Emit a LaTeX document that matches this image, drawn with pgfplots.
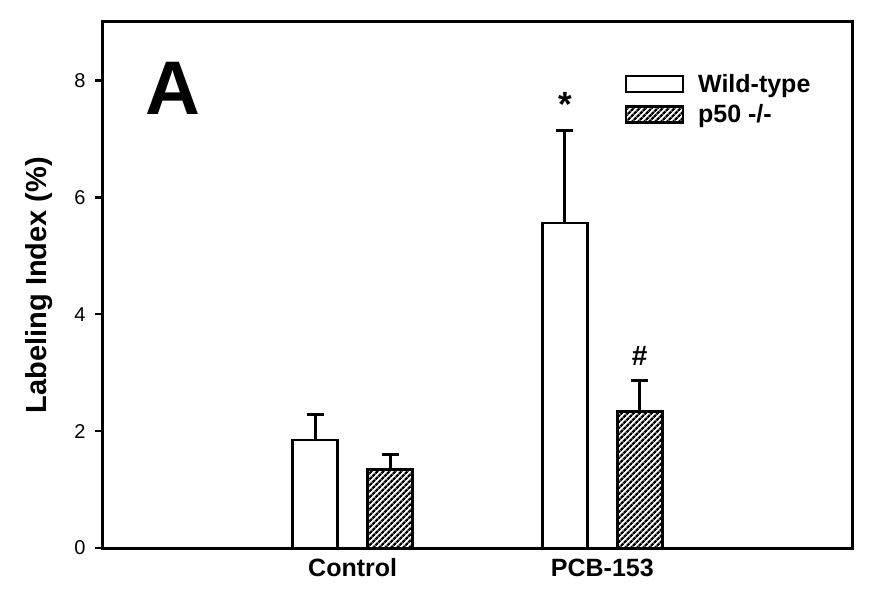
\documentclass[border=0pt]{standalone}
\usepackage{fontspec}
\setmainfont{Liberation Sans}
\usepackage{pgfplots}
\pgfplotsset{compat=1.18}
\usetikzlibrary{patterns.meta}
\begin{document}
\begin{tikzpicture}
\begin{axis}[
  scale only axis, width=749pt, height=526pt,
  xmin=0, xmax=3, ymin=0, ymax=9,
  ytick={0,2,4,6,8}, ytick pos=left,
  yticklabels={0,2,4,6,8},
  xtick={1,2}, xticklabels={Control,PCB-153},
  x tick label style={font=\bfseries\fontsize{25}{28}\selectfont, anchor=base, yshift=-20pt},
  y tick label style={font=\fontsize{20}{24}\selectfont, anchor=east, xshift=-6pt},
  /pgf/number format/assume math mode=true,
  ylabel={Labeling Index (\%)},
  ylabel style={font=\bfseries\fontsize{29}{32}\selectfont, at={(axis description cs:-0.0668,0.5)}, anchor=south, inner sep=0pt},
  axis line style={line width=3pt},
  ytick style={line width=2.4pt, black},
  major tick length=8pt, tick align=outside,
  xtick style={draw=none},
  legend style={at={(axis cs:2.076,8.18)}, anchor=north west, draw=none, fill=none,
    font=\bfseries\fontsize{25}{28}\selectfont, row sep=7pt},
  legend cell align=left,
  error bars/error bar style={line width=3pt, black, solid},
  error bars/error mark options={rotate=90, line width=3pt, mark size=8.5pt, black, solid},
]
\addplot[ybar, bar width=45pt, bar shift=0pt, draw=black, line width=2.6pt, fill=white,
  legend image code/.code={\draw[black, line width=2.6pt, fill=white] (0pt,-8pt) rectangle (57pt,8pt); \path (69pt,0pt);},
  error bars/.cd, y dir=plus, y explicit]
  coordinates {(0.85,1.85) +- (0,0.44) (1.85,5.56) +- (0,1.59)};
\addlegendentry{Wild-type}
\addplot[ybar, bar width=45pt, bar shift=0pt, draw=black, line width=2.6pt,
  pattern={Lines[angle=45,distance=4pt,line width=2.4pt]}, pattern color=black,
  legend image code/.code={\draw[black, line width=2.6pt, pattern={Lines[angle=45,distance=4pt,line width=2.4pt]}, pattern color=black] (0pt,-8pt) rectangle (57pt,8pt); \path (69pt,0pt);},
  error bars/.cd, y dir=plus, y explicit]
  coordinates {(1.15,1.34) +- (0,0.26) (2.15,2.34) +- (0,0.53)};
\addlegendentry{p50 -/-}
\node[anchor=north, inner sep=0pt, font=\bfseries\fontsize{35}{38}\selectfont] at (axis cs:1.85,7.8) {*};
\node[anchor=north, inner sep=0pt, font=\bfseries\fontsize{28}{30}\selectfont] at (axis cs:2.15,3.45) {\#};
\node[anchor=north, inner sep=0pt, font=\bfseries\fontsize{76}{80}\selectfont] at (axis cs:0.282,8.32) {A};
\end{axis}
\path[use as bounding box] (-103pt,-55pt) rectangle (773pt,548pt);
\end{tikzpicture}
\end{document}
